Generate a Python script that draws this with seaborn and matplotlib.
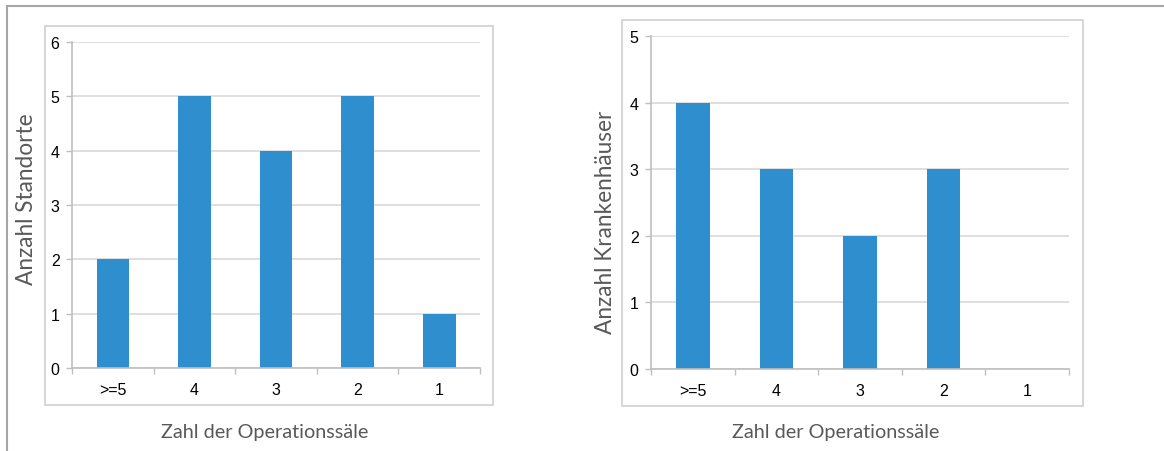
import matplotlib
matplotlib.use("Agg")
import matplotlib.pyplot as plt
import pandas as pd
import seaborn as sns
from matplotlib.patches import Rectangle
from matplotlib.lines import Line2D

categories = [">=5", "4", "3", "2", "1"]
standorte = [2, 5, 4, 5, 1]
krankenhaeuser = [4, 3, 2, 3, 0]

bar_color = "#2F8FCE"
grid_color = "#D9D9D9"
text_color = "#595959"

sns.set_theme(style="white")
plt.rcParams["font.family"] = ["Liberation Sans", "DejaVu Sans"]

fig = plt.figure(figsize=(11.64, 4.52), dpi=100)

# outer frame lines
fig.add_artist(Line2D([7 / 1164, 1], [1 - 7 / 452, 1 - 7 / 452], color="#A6A6A6", lw=1.5))
fig.add_artist(Line2D([7 / 1164, 7 / 1164], [0, 1 - 7 / 452], color="#A6A6A6", lw=1.5))

# inner chart boxes
fig.add_artist(Rectangle((0.0387, 0.1018), 0.3849, 0.8385, fill=False,
                         edgecolor="#D0D0D0", lw=1.2, transform=fig.transFigure))
fig.add_artist(Rectangle((0.5344, 0.0996), 0.396, 0.854, fill=False,
                         edgecolor="#D0D0D0", lw=1.2, transform=fig.transFigure))

panels = [
    ([0.0619, 0.1836, 0.3505, 0.7212], standorte, 6, "Anzahl Standorte",
     (27 / 1164, 1 - 199 / 452), (265 / 1164, 1 - 433 / 452)),
    ([0.5593, 0.1814, 0.3591, 0.7367], krankenhaeuser, 5, "Anzahl Krankenhäuser",
     (605 / 1164, 1 - 222 / 452), (836 / 1164, 1 - 433 / 452)),
]

label_font = ["Lato", "DejaVu Sans"]

for rect, values, ymax, ylabel, ypos, xpos in panels:
    ax = fig.add_axes(rect)
    df = pd.DataFrame({"kategorie": categories, "anzahl": values})
    sns.barplot(data=df, x="kategorie", y="anzahl", color=bar_color,
                saturation=1, width=0.4, linewidth=0, ax=ax)
    ax.set_xlim(-0.5, 4.5)
    ax.set_ylim(0, ymax)
    ax.set_yticks(range(ymax + 1))
    ax.yaxis.grid(True, color=grid_color, lw=1.2)
    ax.set_axisbelow(True)
    ax.set_xlabel("")
    ax.set_ylabel("")
    for s in ["top", "right"]:
        ax.spines[s].set_visible(False)
    for s in ["left", "bottom"]:
        ax.spines[s].set_color("#BFBFBF")
        ax.spines[s].set_linewidth(1.2)
    ax.tick_params(axis="y", length=4, width=1, color="#BFBFBF", left=True,
                   labelsize=11.5, labelcolor="black", pad=5)
    ax.tick_params(axis="x", which="major", length=0, labelsize=11.5,
                   labelcolor="black", pad=10)
    ax.set_xticks([i - 0.5 for i in range(6)], minor=True)
    ax.tick_params(axis="x", which="minor", length=4, width=1, color="#BFBFBF",
                   bottom=True, direction="out")
    fig.text(ypos[0], ypos[1], ylabel, rotation=90, ha="center", va="center",
             fontsize=16.3, color=text_color, family=label_font)
    fig.text(xpos[0], xpos[1], "Zahl der Operationssäle", ha="center", va="center",
             fontsize=14.3, color=text_color, family=label_font)

fig.savefig("out.png", dpi=100)
